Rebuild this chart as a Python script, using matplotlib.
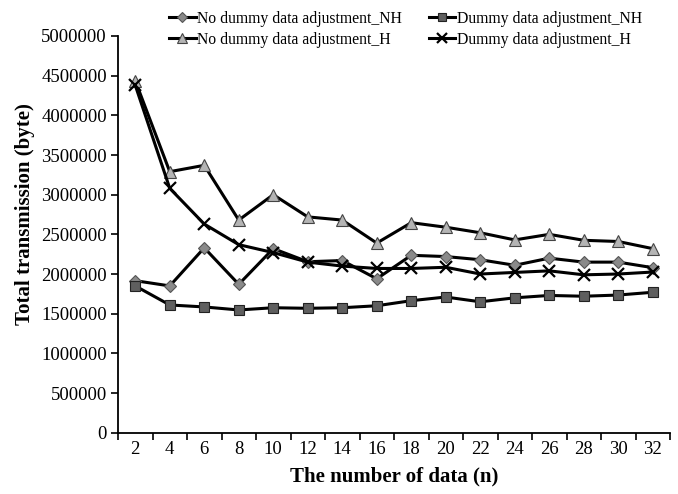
import matplotlib
matplotlib.use("Agg")
import matplotlib.pyplot as plt
from matplotlib.ticker import FixedLocator, NullFormatter

plt.rcParams['font.family'] = ['Liberation Serif', 'DejaVu Serif']

# -----------------------------
# Data
# -----------------------------
n_labels = ["2", "4", "6", "8", "10", "12", "14", "16",
            "18", "20", "22", "24", "26", "28", "30", "32"]

no_dummy_nh = [1916000, 1850000, 2330000, 1870000, 2320000, 2155000, 2170000, 1940000,
               2236000, 2220000, 2180000, 2110000, 2200000, 2150000, 2150000, 2080000]
dummy_nh = [1850000, 1610000, 1585000, 1547000, 1575000, 1568000, 1575000, 1600000,
            1664000, 1710000, 1650000, 1700000, 1730000, 1720000, 1735000, 1770000]
no_dummy_h = [4437000, 3290000, 3370000, 2680000, 3000000, 2720000, 2680000, 2390000,
              2647000, 2590000, 2520000, 2430000, 2500000, 2425000, 2410000, 2320000]
dummy_h = [4380000, 3080000, 2630000, 2370000, 2270000, 2150000, 2100000, 2070000,
           2070000, 2085000, 2000000, 2020000, 2040000, 1990000, 2000000, 2025000]

x = list(range(len(n_labels)))

fig = plt.figure(figsize=(6.78, 4.94), dpi=100)
ax = fig.add_axes([118 / 678, 1 - 432.7 / 494, (670 - 118) / 678, (432.7 - 36) / 494])

lw = 2.2
ms = 7.5
h1, = ax.plot(x, no_dummy_nh, color='black', lw=lw, marker='D', ms=ms - 1.5,
              mfc='#8a8a8a', mec='#555555', mew=0.8)
h2, = ax.plot(x, dummy_nh, color='black', lw=lw, marker='s', ms=ms,
              mfc='#5f5f5f', mec='#222222', mew=0.8)
h3, = ax.plot(x, no_dummy_h, color='black', lw=lw, marker='^', ms=ms + 1,
              mfc='#b4b4b4', mec='#444444', mew=0.8)
h4, = ax.plot(x, dummy_h, color='black', lw=lw, marker='x', ms=ms + 1,
              mec='black', mew=1.6)

# Axes: Excel-style category axis
ax.set_xlim(-0.5, len(x) - 0.5)
ax.set_ylim(0, 5000000)
ax.set_yticks(range(0, 5000001, 500000))
ax.yaxis.set_major_formatter(matplotlib.ticker.FuncFormatter(lambda v, p: "%d" % v))
ax.xaxis.set_major_locator(FixedLocator([i - 0.5 for i in range(len(x) + 1)]))
ax.xaxis.set_major_formatter(NullFormatter())
ax.xaxis.set_minor_locator(FixedLocator(x))
ax.set_xticklabels(n_labels, minor=True)
ax.tick_params(axis='x', which='major', direction='out', length=5, width=1.2)
ax.tick_params(axis='x', which='minor', length=0, pad=6, labelsize=13.5)
ax.tick_params(axis='y', direction='out', length=5, width=1.2, labelsize=13.5, pad=3)

for s in ['top', 'right']:
    ax.spines[s].set_visible(False)
for s in ['left', 'bottom']:
    ax.spines[s].set_linewidth(1.3)

ax.set_xlabel("The number of data (n)", fontsize=15, fontweight='bold', labelpad=6)
ax.set_ylabel("Total transmission (byte)", fontsize=15, fontweight='bold')
ax.yaxis.set_label_coords(-0.15, 0.55)

fig.legend([h1, h3, h2, h4],
           ["No dummy data adjustment_NH", "No dummy data adjustment_H",
            "Dummy data adjustment_NH", "Dummy data adjustment_H"],
           loc='upper left', bbox_to_anchor=(158 / 678, 1.0), ncol=2,
           frameon=False, fontsize=11.3, handlelength=1.7, handletextpad=0.1,
           columnspacing=1.7, labelspacing=0.3, markerscale=0.8, borderpad=0.2)

plt.savefig("out.png", dpi=100)
plt.close()
